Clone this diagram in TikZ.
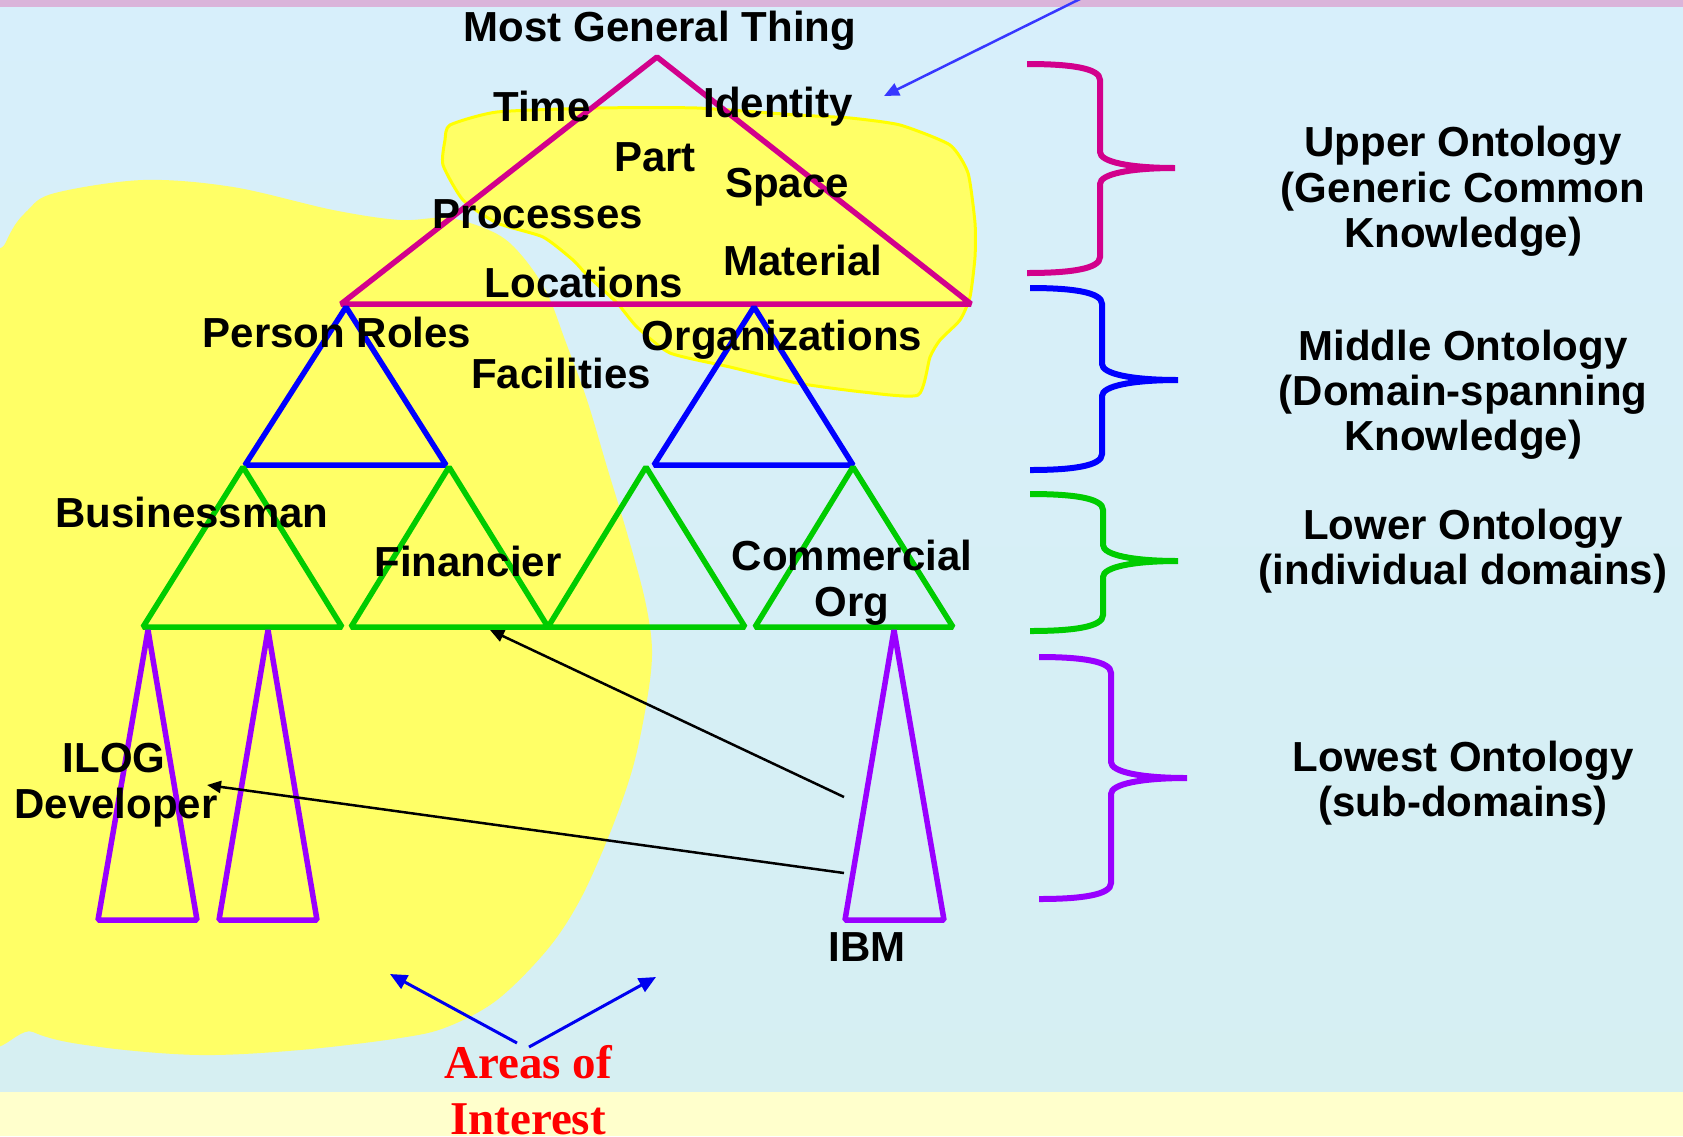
\documentclass[tikz,border=0pt]{standalone}
\usepackage{fontspec}
\setmainfont{Liberation Sans}
\newfontfamily\serifface{Liberation Serif}
\usetikzlibrary{arrows.meta}
\definecolor{bgtop}{RGB}{215,239,251}
\definecolor{bgbot}{RGB}{214,239,242}
\definecolor{stripe}{RGB}{255,255,204}
\definecolor{topbar}{RGB}{218,180,218}
\definecolor{blob}{RGB}{255,255,102}
\definecolor{blobline}{RGB}{255,255,0}
\definecolor{upperc}{RGB}{210,0,140}
\definecolor{middlec}{RGB}{0,0,255}
\definecolor{lowerc}{RGB}{0,204,0}
\definecolor{lowestc}{RGB}{153,0,255}
\definecolor{ptr}{RGB}{55,55,255}
\definecolor{ptrb}{RGB}{0,0,240}
\newcommand{\ontbrace}[7]{%
  \draw[#1, line width=6pt]
    (#2,#5) .. controls (#3-30,#5) and (#3,#5+4) .. (#3,#5+16)
    -- (#3,#6-16) .. controls (#3,#6-6) and (#3+30,#6) .. (#4,#6)
    .. controls (#3+30,#6) and (#3,#6+6) .. (#3,#6+16)
    -- (#3,#7-16) .. controls (#3,#7-4) and (#3-30,#7) .. (#2,#7);}
\begin{document}
\begin{tikzpicture}[x=1pt,y=-1pt,
  lbl/.style={font=\fontsize{42}{45}\selectfont\bfseries, anchor=base, inner sep=0pt, text=black},
  red lbl/.style={font=\serifface\fontsize{47}{52}\selectfont\bfseries, anchor=base, inner sep=0pt, text=red},
  tri/.style={line width=5.5pt, line join=bevel},
  ptrarrow/.style={line width=2.5pt, -{Triangle[length=15pt,width=13pt]}},
  bluearrow/.style={ptrb, line width=3pt, -{Triangle[length=17pt,width=15pt]}},
  blackarrow/.style={black, line width=2.5pt, -{Triangle[length=14pt,width=12pt]}}]
\useasboundingbox (0,0) rectangle (1683,1136);
\clip (0,0) rectangle (1683,1136);
% background
\shade[top color=bgtop, bottom color=bgbot] (0,0) rectangle (1683,1092);
\fill[stripe] (0,1092) rectangle (1683,1136);
\fill[topbar] (0,0) rectangle (1683,7);
% left area of interest
\fill[blob] plot[smooth cycle, tension=0.55] coordinates {
 (-30,340) (6,242) (28,210) (55,193) (143,180) (233,187) (333,210) (400,220) (450,218)
 (497,234) (523,257) (547,293) (565,340) (587,400) (607,467) (627,533) (645,600)
 (652,650) (647,700) (633,767) (610,833) (580,900) (547,950) (497,1000) (447,1027)
 (400,1038) (300,1050) (200,1055) (100,1047) (33,1032) (-30,990)};
% upper-right area of interest
\filldraw[fill=blob, draw=blobline, line width=3pt] plot[smooth cycle, tension=0.35] coordinates {
 (450,125) (497,112) (597,108) (697,108) (797,115) (850,118) (900,125) (950,145)
 (968,173) (975,223) (975,257) (970,297) (960,320) (940,340) (930,357) (918,395)
 (863,392) (797,383) (730,367) (670,353) (637,327) (617,303) (587,275) (573,260)
 (543,237) (497,223) (463,200) (443,165) (445,140)};
% upper ontology
\draw[tri, upperc] (657,57) -- (971,304) -- (341,304) -- cycle;
% middle ontology
\draw[tri, middlec] (346,307) -- (446,465) -- (245,465) -- cycle;
\draw[tri, middlec] (754,307) -- (853,465) -- (654,465) -- cycle;
% lower ontology
\draw[tri, lowerc] (243,467) -- (342,627) -- (143,627) -- cycle;
\draw[tri, lowerc] (449,467) -- (548,627) -- (351,627) -- cycle;
\draw[tri, lowerc] (646,467) -- (745,627) -- (548,627) -- cycle;
\draw[tri, lowerc] (853,467) -- (953,627) -- (755,627) -- cycle;
% lowest ontology
\draw[tri, lowestc] (148,630) -- (197,920) -- (98,920) -- cycle;
\draw[tri, lowestc] (268,630) -- (317,920) -- (219,920) -- cycle;
\draw[tri, lowestc] (894,630) -- (944,920) -- (845,920) -- cycle;
% labels
\node[lbl] (mgt) at (660,41) {Most General Thing};
\node[lbl] (time) at (542,121) {Time};
\node[lbl] (ident) at (778,117) {Identity};
\node[lbl] (part) at (655,171) {Part};
\node[lbl] (space) at (787,197) {Space};
\node[lbl] (proc) at (538,228) {Processes};
\node[lbl] (mat) at (803,275) {Material};
\node[lbl] (loc) at (584,297) {Locations};
\node[lbl] (pers) at (337,347) {Person Roles};
\node[lbl] (orgs) at (782,350) {Organizations};
\node[lbl] (fac) at (561,388) {Facilities};
\node[lbl] (bus) at (192,527) {Businessman};
\node[lbl] (fin) at (468,576) {Financier};
\node[lbl] (comm) at (852,570) {Commercial};
\node[lbl] (org) at (852,616) {Org};
\node[lbl] (ilog) at (114,772) {ILOG};
\node[lbl] (dev) at (116,818) {Developer};
\node[lbl] (ibm) at (867,961) {IBM};
% right-hand labels
\node[lbl] (u1) at (1463,156) {Upper Ontology};
\node[lbl] (u2) at (1463,202) {(Generic Common};
\node[lbl] (u3) at (1463,247) {Knowledge)};
\node[lbl] (m1) at (1463,360) {Middle Ontology};
\node[lbl] (m2) at (1463,405) {(Domain-spanning};
\node[lbl] (m3) at (1463,450) {Knowledge)};
\node[lbl] (l1) at (1463,539) {Lower Ontology};
\node[lbl] (l2) at (1463,584) {(individual domains)};
\node[lbl] (w1) at (1463,771) {Lowest Ontology};
\node[lbl] (w2) at (1463,816) {(sub-domains)};
% braces
\ontbrace{upperc}{1027}{1100}{1175}{64}{168}{273}
\ontbrace{middlec}{1030}{1102}{1178}{288}{380}{470}
\ontbrace{lowerc}{1030}{1103}{1178}{494}{561}{631}
\ontbrace{lowestc}{1039}{1111}{1187}{657}{778}{899}
% areas of interest
\node[red lbl] (aoi1) at (528,1078) {Areas of};
\node[red lbl] (aoi2) at (528,1134) {Interest};
\coordinate (aoiL) at (517,1043);
\coordinate (aoiR) at (529,1047);
\coordinate (aoiLt) at (390,974);
\coordinate (aoiRt) at (656,977);
\draw[bluearrow] (aoiL) -- (aoiLt);
\draw[bluearrow] (aoiR) -- (aoiRt);
% pointer from top
\coordinate (topsrc) at (1082,-2);
\coordinate (toptip) at (884,96);
\draw[ptr, ptrarrow] (topsrc) -- (toptip);
% IBM pointers
\coordinate (ibmA) at (844,797);
\coordinate (ibmB) at (844,873);
\coordinate (finTip) at (490,630);
\coordinate (devTip) at (207,785);
\draw[blackarrow] (ibmA) -- (finTip);
\draw[blackarrow] (ibmB) -- (devTip);
\end{tikzpicture}
\end{document}
